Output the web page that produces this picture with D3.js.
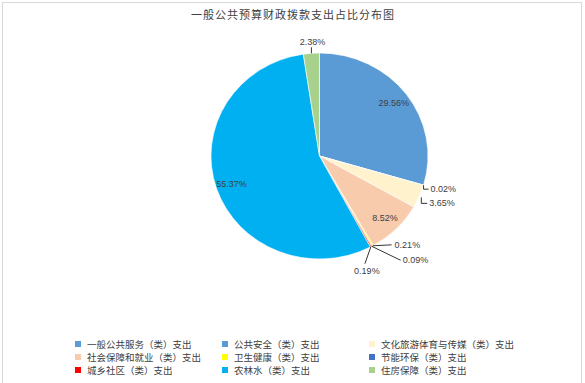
<!DOCTYPE html>
<html>
<head>
<meta charset="utf-8">
<script src="https://cdn.jsdelivr.net/npm/d3@7"></script>
<style>
html,body{margin:0;padding:0;background:#fff;}
svg{display:block;}
</style>
</head>
<body>
<script>
const title = "一般公共预算财政拨款支出占比分布图";
const categories = ["一般公共服务（类）支出","公共安全（类）支出","文化旅游体育与传媒（类）支出","社会保障和就业（类）支出","卫生健康（类）支出","节能环保（类）支出","城乡社区（类）支出","农林水（类）支出","住房保障（类）支出"];
const values = [29.56, 0.02, 3.65, 8.52, 0.21, 0.09, 0.19, 55.37, 2.38];
const colors = ["#5B9BD5","#5B9BD5","#FFF2CC","#F8CBAD","#FFFF00","#4472C4","#FF0000","#00B0F0","#A9D18E"];

const W = 585, H = 383;
const svg = d3.select("body").append("svg").attr("width", W).attr("height", H);

svg.append("rect").attr("x",2.5).attr("y",2.5).attr("width",579).attr("height",385)
  .attr("fill","#fff").attr("stroke","#d9d9d9").attr("stroke-width",1);

svg.append("text").attr("x",293).attr("y",19).attr("text-anchor","middle")
  .attr("font-family","'Noto Sans CJK SC', sans-serif").attr("font-size",11)
  .attr("letter-spacing",1).attr("fill","#404040").text(title);

const cx = 319.5, cy = 156, R = 103, sx = 108.5/103;
const data = categories.map((c,i)=>({name:c, value:values[i], color:colors[i], i}));
const pie = d3.pie().value(d=>d.value).sort(null);
const arcs = pie(data);
const arc = d3.arc().innerRadius(0).outerRadius(R);

const g = svg.append("g").attr("transform",`translate(${cx},${cy}) scale(${sx},1)`);
g.selectAll("path").data(arcs).join("path")
  .attr("d", arc).attr("fill", d=>d.data.color)
  .attr("stroke","#fff").attr("stroke-width",0.6);

// label placement helpers
function pt(angle, r){ return [cx + r*sx*Math.sin(angle), cy - r*Math.cos(angle)]; }
const fmt = v => v.toFixed(2) + "%";
const labelFont = "'Liberation Sans', Arial, sans-serif";
const lg = svg.append("g");
// inside labels at mid angle
const insideIdx = [0,3,7];
insideIdx.forEach(i=>{
  const a = arcs[i]; const m = (a.startAngle+a.endAngle)/2;
  const [x,y] = pt(m, 88);
  lg.append("text").attr("x",x).attr("y",y+3).attr("text-anchor","middle")
    .attr("font-family",labelFont).attr("font-size",9).attr("fill","#404040").text(fmt(a.data.value));
});
// outside labels with leader lines: [index, leader path offsets relative to edge point, label offset, anchor]
const outside = [
  {i:8, pts:[[0,0],[0,-6]], lab:[1,-8], anchor:"middle"},
  {i:1, pts:[[0,0],[0,4],[5,4]], lab:[7,7], anchor:"start"},
  {i:2, pts:[[2,1],[2,7],[8,7]], lab:[10,10], anchor:"start"},
  {i:4, pts:[[0,0],[19,-1]], lab:[22,2], anchor:"start"},
  {i:5, pts:[[0,0],[29,14]], lab:[31,17], anchor:"start"},
  {i:6, pts:[[0,0],[-6,17]], lab:[-4,27], anchor:"middle"}
];
outside.forEach(o=>{
  const a = arcs[o.i]; const m = (a.startAngle+a.endAngle)/2;
  const [ex,ey] = pt(m, R);
  const line = d3.line();
  lg.append("path").attr("d", line(o.pts.map(p=>[ex+p[0], ey+p[1]])))
    .attr("fill","none").attr("stroke","#000").attr("stroke-width",0.8);
  lg.append("text").attr("x",ex+o.lab[0]).attr("y",ey+o.lab[1]).attr("text-anchor",o.anchor)
    .attr("font-family",labelFont).attr("font-size",9).attr("fill","#404040").text(fmt(a.data.value));
});

// legend
const colX = [78, 225, 372], rowY = [344, 357, 370];
const leg = svg.append("g");
data.forEach((d,i)=>{
  const c = i%3, r = Math.floor(i/3);
  leg.append("rect").attr("x",colX[c]-3).attr("y",rowY[r]-3).attr("width",6).attr("height",6).attr("fill",d.color);
  leg.append("text").attr("x",colX[c]+9).attr("y",rowY[r]+3.5)
    .attr("font-family","'Noto Sans CJK SC', sans-serif").attr("font-size",9.5)
    .attr("fill","#404040").text(d.name);
});
</script>
</body>
</html>
